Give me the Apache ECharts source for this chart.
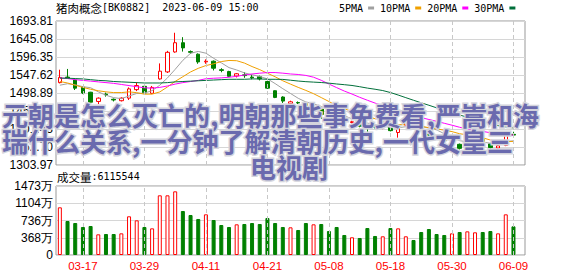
<!DOCTYPE html>
<html><head><meta charset="utf-8">
<script src="https://cdn.jsdelivr.net/npm/echarts@6/dist/echarts.min.js"></script>
<style>html,body{margin:0;padding:0;background:#fff}#c{width:578px;height:276px}</style>
</head><body><div id="c"></div>
<script>
const dates = ['03-14','03-15','03-16','03-17','03-20','03-21','03-22','03-23','03-24','03-27','03-28','03-29','03-30','03-31',
'04-03','04-04','04-06','04-07','04-10','04-11','04-12','04-13','04-14','04-17','04-18','04-19','04-20','04-21','04-24','04-25','04-26','04-27','04-28',
'05-04','05-05','05-08','05-09','05-10','05-11','05-12','05-15','05-16','05-17','05-18','05-19','05-22','05-23','05-24','05-25','05-26','05-29','05-30','05-31',
'06-01','06-02','06-05','06-06','06-07','06-08','06-09'];
const labelDates = ['03-17','03-29','04-11','04-21','05-08','05-18','05-30','06-09'];
const opens  = [1527,1542,1534,1515,1501,1476,1496,1482,1478,1485,1508,1517,1498,1537,1556,1610,1635,1611,1604,1583,1585,1562,1557,1545,1548,1542,1543,1530,1505,1488,1470,1473,1470,1455,1457,1439,1434,1424,1419,1418,1408,1411,1405,1412,1392,1412,1418,1408,1394,1379,1377,1362,1360,1345,1364,1375,1361,1350,1357,1387];
const closes = [1541,1540,1512,1499,1474,1485,1494,1480,1485,1510,1519,1499,1514,1558,1609,1635,1621,1609,1583,1585,1566,1560,1544,1551,1546,1540,1537,1512,1487,1477,1475,1472,1462,1462,1441,1433,1427,1423,1421,1409,1407,1406,1407,1397,1407,1421,1410,1402,1384,1378,1370,1368,1349,1368,1378,1368,1351,1356,1386,1385];
const lows   = [1525,1538,1507,1496,1472,1469,1489,1476,1476,1480,1504,1497,1496,1535,1553,1608,1611,1605,1578,1578,1560,1555,1542,1541,1540,1536,1533,1510,1485,1472,1468,1469,1458,1452,1429,1430,1424,1419,1416,1406,1389,1403,1401,1395,1378,1410,1406,1399,1381,1372,1366,1358,1346,1343,1361,1365,1348,1348,1355,1379];
const highs  = [1562,1564,1536,1516,1502,1487,1500,1484,1487,1514,1528,1520,1518,1579,1613,1662,1650,1614,1606,1590,1587,1566,1559,1553,1555,1548,1546,1536,1506,1490,1478,1476,1474,1466,1459,1441,1437,1427,1424,1420,1410,1413,1411,1414,1409,1424,1420,1410,1396,1383,1380,1372,1362,1372,1381,1378,1364,1358,1394,1394];
const volumes = [10180000,7260000,6830000,5980000,6190000,4410000,4480000,4480000,4620000,8260000,7400000,5980000,5690000,12740000,12740000,13590000,9390000,8540000,7690000,8680000,7470000,6400000,5980000,6550000,6620000,6830000,6620000,7900000,6830000,5980000,5910000,5340000,6830000,6550000,6620000,5120000,5980000,4270000,3780000,3630000,5760000,4060000,3990000,5760000,5690000,3990000,3200000,4910000,5550000,4480000,4270000,4620000,4910000,5050000,4840000,4910000,5120000,4620000,8680000,6115544];
// moving-average values before enough in-window history exists
const ma5Head  = [1520,1524,1521,1516];
const ma10Head = [1530,1526,1520,1514,1509,1505,1502,1500,1500];
const ma20Head = [1540,1538,1535,1533,1531,1529,1527,1525,1522,1519,1516,1513,1512,1514,1518,1523,1527,1530,1533];
const ma30Head = [1539,1539,1538,1537,1535,1533,1532,1530,1529,1528,1527,1526,1526,1526,1527,1529,1530,1531,1532,1533,1534,1535,1536,1536,1536,1537,1537,1536,1536];
const priceRange = [1303.97, 1693.81, 48.73];
const volRange = [0, 14730000, 3682500];

function ma(n, head) {
  return closes.map((c, i) => {
    if (i < n - 1) return head[i];
    let s = 0; for (let k = i - n + 1; k <= i; k++) s += closes[k];
    return +(s / n).toFixed(2);
  });
}
const cats = dates.concat(['']);
const candle = dates.map((d, i) => [opens[i], closes[i], lows[i], highs[i]]);
const volData = volumes.map((v, i) => {
  const up = closes[i] > opens[i];
  return {value: v, itemStyle: {color: up ? '#ffffff' : '#008000', borderColor: up ? '#ff0000' : '#008000', borderWidth: 1}};
});
const vlines = {silent: true, symbol: ['none','none'], label: {show: false}, animation: false,
  lineStyle: {type: [4,3], color: '#c8c8c8', width: 1}, emphasis: {disabled: true},
  data: labelDates.map(d => ({xAxis: d}))};
const maDefs = [['5PMA', ma(5, ma5Head), '#a0a0a0'], ['10PMA', ma(10, ma10Head), '#f0a000'],
  ['20PMA', ma(20, ma20Head), '#ff00ff'], ['30PMA', ma(30, ma30Head), '#006f3a']];

const chart = echarts.init(document.getElementById('c'), null, {renderer: 'svg'});
const monoRich = {
  c: {fontFamily: 'Noto Sans CJK SC', fontSize: 11.5, fontWeight: 'normal', color: '#000'},
  m: {fontFamily: 'DejaVu Sans Mono', fontSize: 10, fontWeight: 'normal', color: '#000'}
};
const wm = {fill: '#6a6aae', stroke: '#d4d4dc', lineWidth: 3, strokeFirst: true,
  font: 'bold 26px "Noto Sans CJK SC"', textVerticalAlign: 'middle'};
chart.setOption({
  animation: false,
  backgroundColor: '#fff',
  title: [
    {left: 56, top: 2, padding: 0, text: '{c|猪肉概念}{m|[BK0882]  2023-06-09 15:00}', textStyle: {fontWeight: 'normal', rich: monoRich}},
    {left: 57, top: 171, padding: 0, text: '{c|成交量}{m|:' + volumes[volumes.length - 1] + '}', textStyle: {fontWeight: 'normal', rich: monoRich}}
  ],
  legend: {left: 339, top: 3, padding: 0, align: 'right', itemWidth: 6, itemHeight: 3, itemGap: 6,
    icon: 'rect', textStyle: {fontFamily: 'DejaVu Sans Mono', fontSize: 10, color: '#000'},
    data: maDefs.map(m => m[0])},
  grid: [
    {left: 56, top: 21, width: 469, height: 144, show: true, borderColor: '#999', borderWidth: 1, backgroundColor: 'transparent'},
    {left: 56, top: 186, width: 469, height: 69, show: true, borderColor: '#999', borderWidth: 1, backgroundColor: 'transparent'}
  ],
  xAxis: [
    {type: 'category', gridIndex: 0, data: cats, boundaryGap: true, axisLine: {show: false}, axisTick: {show: false},
      axisLabel: {show: false}, splitLine: {show: false}},
    {type: 'category', gridIndex: 1, data: cats, boundaryGap: true, axisLine: {show: false}, axisTick: {show: false},
      splitLine: {show: false},
      axisLabel: {interval: (i, v) => labelDates.includes(v), color: '#ff0000', fontSize: 11.5,
        fontFamily: 'Liberation Sans', margin: 5}}
  ],
  yAxis: [
    {type: 'value', gridIndex: 0, min: priceRange[0], max: priceRange[1], interval: priceRange[2],
      axisLine: {show: false}, axisTick: {show: false},
      axisLabel: {formatter: v => v.toFixed(2), color: '#000', fontSize: 12, fontFamily: 'Liberation Sans', margin: 3},
      splitLine: {lineStyle: {color: '#d6d6d6', width: 1}}},
    {type: 'value', gridIndex: 1, min: volRange[0], max: volRange[1], interval: volRange[2],
      axisLine: {show: false}, axisTick: {show: false},
      axisLabel: {formatter: v => v === 0 ? '0' : Math.floor(v / 10000 + 1e-6) + '万', color: '#000', fontSize: 12,
        fontFamily: 'Liberation Sans', margin: 3},
      splitLine: {lineStyle: {color: '#d6d6d6', width: 1}}}
  ],
  series: [
    {type: 'candlestick', xAxisIndex: 0, yAxisIndex: 0, data: candle, barWidth: 4,
      itemStyle: {color: '#ffffff', color0: '#008000', borderColor: '#ff0000', borderColor0: '#008000', borderWidth: 1},
      markLine: vlines, z: 3}
  ].concat(maDefs.map(m => ({
    name: m[0], type: 'line', xAxisIndex: 0, yAxisIndex: 0, data: m[1], symbol: 'none', showSymbol: false,
    lineStyle: {width: 1, color: m[2]}, itemStyle: {color: m[2]}, z: 4
  }))).concat([
    {type: 'bar', xAxisIndex: 1, yAxisIndex: 1, data: volData, barWidth: 4, markLine: vlines}
  ]),
  graphic: [
    {type: 'text', x: 2, y: 114, z: 100, silent: true, style: Object.assign({text: '元朝是怎么灭亡的,明朝那些事免费看,严嵩和海', textAlign: 'left'}, wm)},
    {type: 'text', x: 2, y: 140, z: 100, silent: true, style: Object.assign({text: '瑞什么关系,一分钟了解清朝历史,一代女皇三', textAlign: 'left'}, wm)},
    {type: 'text', x: 289, y: 166, z: 100, silent: true, style: Object.assign({text: '电视剧', textAlign: 'center'}, wm)}
  ]
});
</script></body></html>
